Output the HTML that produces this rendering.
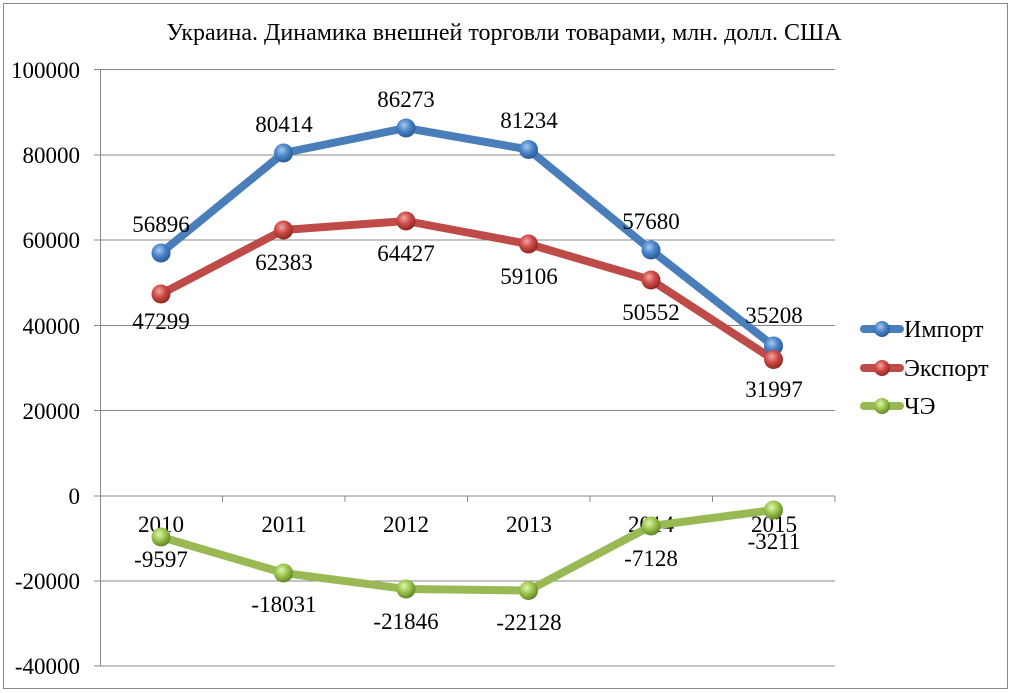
<!DOCTYPE html>
<html><head><meta charset="utf-8"><style>body{margin:0;background:#fff}svg{display:block}text{font-family:"Liberation Serif",serif;fill:#000}</style></head><body>
<svg width="1011" height="693" viewBox="0 0 1011 693">
<defs>
<radialGradient id="gb" cx="40%" cy="35%" r="65%"><stop offset="0" stop-color="#a9c8ef"/><stop offset="0.5" stop-color="#4a86cc"/><stop offset="1" stop-color="#2b5a95"/></radialGradient>
<radialGradient id="gr" cx="40%" cy="35%" r="65%"><stop offset="0" stop-color="#f0a8a5"/><stop offset="0.5" stop-color="#d04a46"/><stop offset="1" stop-color="#8f2824"/></radialGradient>
<radialGradient id="gg" cx="40%" cy="35%" r="65%"><stop offset="0" stop-color="#e3f3b5"/><stop offset="0.5" stop-color="#9cc84e"/><stop offset="1" stop-color="#62862a"/></radialGradient>
</defs>
<rect x="3.5" y="3.5" width="1004" height="685" fill="#fff" stroke="#888"/>
<text x="504" y="40" font-size="24" text-anchor="middle">Украина. Динамика внешней торговли товарами, млн. долл. США</text>
<g stroke="#888" stroke-width="1">
<line x1="94" y1="69.5" x2="835" y2="69.5"/><line x1="94" y1="155" x2="835" y2="155"/><line x1="94" y1="240" x2="835" y2="240"/><line x1="94" y1="325.5" x2="835" y2="325.5"/><line x1="94" y1="410.5" x2="835" y2="410.5"/><line x1="94" y1="496" x2="835" y2="496"/><line x1="94" y1="581" x2="835" y2="581"/><line x1="94" y1="666" x2="835" y2="666"/>
<line x1="100.5" y1="69" x2="100.5" y2="666"/>
<line x1="222.5" y1="496" x2="222.5" y2="502"/><line x1="345" y1="496" x2="345" y2="502"/><line x1="467.5" y1="496" x2="467.5" y2="502"/><line x1="590" y1="496" x2="590" y2="502"/><line x1="712.5" y1="496" x2="712.5" y2="502"/><line x1="835" y1="496" x2="835" y2="502"/>
</g>
<g font-size="23" text-anchor="end">
<text x="80" y="78">100000</text><text x="80" y="163">80000</text><text x="80" y="248">60000</text><text x="80" y="334">40000</text><text x="80" y="419">20000</text><text x="80" y="504">0</text><text x="80" y="589">-20000</text><text x="80" y="674">-40000</text>
</g>
<g font-size="23" text-anchor="middle">
<text x="161" y="532">2010</text><text x="284" y="532">2011</text><text x="406" y="532">2012</text><text x="529" y="532">2013</text><text x="651" y="532">2014</text><text x="774" y="532">2015</text>
</g>
<g fill="none" stroke-width="8" stroke-linejoin="round" stroke-linecap="round">
<polyline stroke="#4a7ebb" points="161,253 283.5,153 406,128 528.5,149.5 651,250 773.5,346"/>
<polyline stroke="#be4b48" points="161,294 283.5,230 406,221 528.5,244 651,280 773.5,359.5"/>
<polyline stroke="#98b954" points="161,537 283.5,573 406,589 528.5,590.5 651,526 773.5,510"/>
</g>
<g>
<circle cx="161" cy="253" r="9.5" fill="url(#gb)"/><circle cx="283.5" cy="153" r="9.5" fill="url(#gb)"/><circle cx="406" cy="128" r="9.5" fill="url(#gb)"/><circle cx="528.5" cy="149.5" r="9.5" fill="url(#gb)"/><circle cx="651" cy="250" r="9.5" fill="url(#gb)"/><circle cx="773.5" cy="346" r="9.5" fill="url(#gb)"/>
<circle cx="161" cy="294" r="9.5" fill="url(#gr)"/><circle cx="283.5" cy="230" r="9.5" fill="url(#gr)"/><circle cx="406" cy="221" r="9.5" fill="url(#gr)"/><circle cx="528.5" cy="244" r="9.5" fill="url(#gr)"/><circle cx="651" cy="280" r="9.5" fill="url(#gr)"/><circle cx="773.5" cy="359.5" r="9.5" fill="url(#gr)"/>
<circle cx="161" cy="537" r="9.5" fill="url(#gg)"/><circle cx="283.5" cy="573" r="9.5" fill="url(#gg)"/><circle cx="406" cy="589" r="9.5" fill="url(#gg)"/><circle cx="528.5" cy="590.5" r="9.5" fill="url(#gg)"/><circle cx="651" cy="526" r="9.5" fill="url(#gg)"/><circle cx="773.5" cy="510" r="9.5" fill="url(#gg)"/>
</g>
<g font-size="23" text-anchor="middle">
<text x="161" y="232">56896</text><text x="284" y="132">80414</text><text x="406" y="107">86273</text><text x="529" y="128">81234</text><text x="651" y="229">57680</text><text x="774" y="323">35208</text>
<text x="161" y="329">47299</text><text x="284" y="270">62383</text><text x="406" y="261">64427</text><text x="529" y="284">59106</text><text x="651" y="320">50552</text><text x="774" y="397">31997</text>
<text x="161" y="567">-9597</text><text x="284" y="612">-18031</text><text x="406" y="629">-21846</text><text x="529" y="630">-22128</text><text x="651" y="566">-7128</text><text x="774" y="549">-3211</text>
</g>
<g stroke-width="8" stroke-linecap="round">
<line x1="864" y1="329" x2="900" y2="329" stroke="#4a7ebb"/><line x1="864" y1="368" x2="900" y2="368" stroke="#be4b48"/><line x1="864" y1="406" x2="900" y2="406" stroke="#98b954"/>
</g>
<circle cx="882" cy="329" r="8" fill="url(#gb)"/><circle cx="882" cy="368" r="8" fill="url(#gr)"/><circle cx="882" cy="406" r="8" fill="url(#gg)"/>
<g font-size="24"><text x="904" y="337">Импорт</text><text x="904" y="376">Экспорт</text><text x="904" y="414">ЧЭ</text></g>
</svg>
</body></html>
